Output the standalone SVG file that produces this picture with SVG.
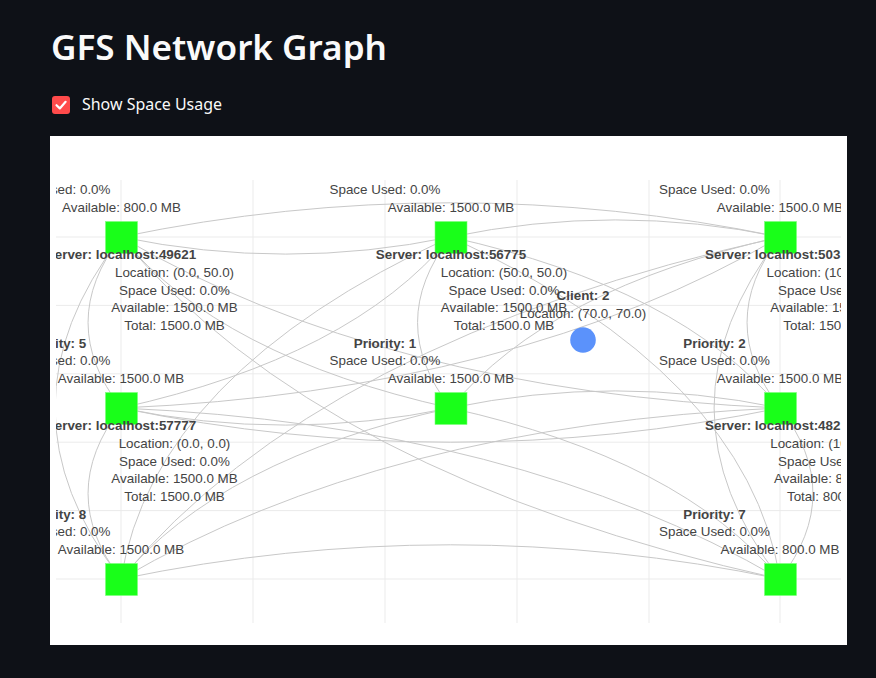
<svg xmlns="http://www.w3.org/2000/svg" width="876" height="678" viewBox="0 0 876 678">
<defs>
<style>
.t{font-family:"Liberation Sans",Arial,sans-serif;font-size:13.4px;fill:#444;text-anchor:middle}
.b{font-weight:bold}
.s{text-anchor:start}
.grid{stroke:#ebebeb;stroke-width:1;fill:none}
.e{stroke:#c8c8c8;stroke-width:1;fill:none}
.node{fill:#19ff19;stroke:#7dff7d;stroke-width:0.6}
</style>
<clipPath id="plot"><rect x="56" y="180" width="785" height="443"/></clipPath>
</defs>
<rect x="0" y="0" width="876" height="678" fill="#0e1117"/>
<text x="51" y="60" font-family="'Source Sans Pro','Noto Sans','Open Sans',sans-serif" font-weight="600" font-size="34" fill="#fafafa" textLength="336" lengthAdjust="spacingAndGlyphs">GFS Network Graph</text>
<g id="checkbox">
<rect x="52" y="96" width="18" height="18" rx="3" fill="#ff4b4b"/>
<path d="M56.5 105.2 L59.8 108.4 L65.6 101.8" fill="none" stroke="#fff" stroke-width="2.2" stroke-linecap="round" stroke-linejoin="round"/>
<text x="82" y="110" font-family="'Source Sans Pro','Noto Sans','Open Sans',sans-serif" font-size="16.5" fill="#fafafa" textLength="140" lengthAdjust="spacingAndGlyphs">Show Space Usage</text>
</g>
<rect x="50" y="136" width="797" height="509" fill="#ffffff"/>
<g id="grid" class="grid">
<path d="M121 180V623M253 180V623M385 180V623M517 180V623M649 180V623M780 180V623"/>
<path d="M56 237H841M56 305.4H841M56 373.8H841M56 442.2H841M56 510.6H841M56 579H841"/>
</g>
<g clip-path="url(#plot)">
<g id="edges" class="e">
<path d="M121,237 Q285.75,271.2 450.5,237"/>
<path d="M121,237 Q450.5,168.6 780,237"/>
<path d="M121,237 Q55.1,322.5 121,408"/>
<path d="M121,237 Q219.85,356.7 450.5,408"/>
<path d="M121,237 Q384.6,390.9 780,408"/>
<path d="M121,237 Q-10.8,408 121,579"/>
<path d="M121,237 Q318.7,476.4 780,579"/>
<path d="M450.5,237 Q615.25,202.8 780,237"/>
<path d="M450.5,237 Q351.65,356.7 121,408"/>
<path d="M450.5,237 Q384.6,322.5 450.5,408"/>
<path d="M450.5,237 Q681.15,288.3 780,408"/>
<path d="M450.5,237 Q153.95,373.8 121,579"/>
<path d="M450.5,237 Q747.05,373.8 780,579"/>
<path d="M780,237 Q516.4,390.9 121,408"/>
<path d="M780,237 Q549.35,288.3 450.5,408"/>
<path d="M780,237 Q714.1,322.5 780,408"/>
<path d="M780,237 Q318.7,339.6 121,579"/>
<path d="M780,237 Q648.2,408 780,579"/>
<path d="M121,408 Q285.75,442.2 450.5,408"/>
<path d="M121,408 Q450.5,476.4 780,408"/>
<path d="M121,408 Q55.1,493.5 121,579"/>
<path d="M121,408 Q516.4,425.1 780,579"/>
<path d="M450.5,408 Q615.25,373.8 780,408"/>
<path d="M450.5,408 Q219.85,459.3 121,579"/>
<path d="M450.5,408 Q681.15,459.3 780,579"/>
<path d="M780,408 Q384.6,425.1 121,579"/>
<path d="M780,408 Q845.9,493.5 780,579"/>
<path d="M121,579 Q450.5,510.6 780,579"/>
</g>
<g id="node-a">
<rect class="node" x="105.5" y="221.5" width="32" height="32"/>
<text class="t" x="55" y="194.3">Space Used: 0.0%</text>
<text class="t" x="121.5" y="212">Available: 800.0 MB</text>
</g>
<g id="node-b">
<rect class="node" x="435" y="221.5" width="32" height="32"/>
<text class="t" x="385" y="194.3">Space Used: 0.0%</text>
<text class="t" x="451" y="212">Available: 1500.0 MB</text>
</g>
<g id="node-c">
<rect class="node" x="764.5" y="221.5" width="32" height="32"/>
<text class="t" x="714.5" y="194.3">Space Used: 0.0%</text>
<text class="t" x="780" y="212">Available: 1500.0 MB</text>
</g>
<g id="node-d">
<rect class="node" x="105.5" y="392.5" width="32" height="32"/>
<text class="t b" x="121" y="259.1">Server: localhost:49621</text>
<text class="t" x="174.5" y="276.8">Location: (0.0, 50.0)</text>
<text class="t" x="174.5" y="294.5">Space Used: 0.0%</text>
<text class="t" x="174.5" y="312.2">Available: 1500.0 MB</text>
<text class="t" x="174.5" y="329.9">Total: 1500.0 MB</text>
<text class="t b" x="55" y="347.6">Priority: 5</text>
<text class="t" x="55" y="365.3">Space Used: 0.0%</text>
<text class="t" x="121" y="383">Available: 1500.0 MB</text>
</g>
<g id="node-e">
<rect class="node" x="435" y="392.5" width="32" height="32"/>
<text class="t b" x="451" y="259.1">Server: localhost:56775</text>
<text class="t" x="504" y="276.8">Location: (50.0, 50.0)</text>
<text class="t" x="504" y="294.5">Space Used: 0.0%</text>
<text class="t" x="504" y="312.2">Available: 1500.0 MB</text>
<text class="t" x="504" y="329.9">Total: 1500.0 MB</text>
<text class="t b" x="385" y="347.6">Priority: 1</text>
<text class="t" x="385" y="365.3">Space Used: 0.0%</text>
<text class="t" x="451" y="383">Available: 1500.0 MB</text>
</g>
<g id="node-f">
<rect class="node" x="764.5" y="392.5" width="32" height="32"/>
<text class="t b s" x="705" y="259.1">Server: localhost:503</text>
<text class="t" x="833.5" y="276.8">Location: (100.0, 50.0)</text>
<text class="t" x="833.5" y="294.5">Space Used: 0.0%</text>
<text class="t" x="833.5" y="312.2">Available: 1500.0 MB</text>
<text class="t" x="833.5" y="329.9">Total: 1500.0 MB</text>
<text class="t b" x="714.5" y="347.6">Priority: 2</text>
<text class="t" x="714.5" y="365.3">Space Used: 0.0%</text>
<text class="t" x="780" y="383">Available: 1500.0 MB</text>
</g>
<g id="node-g">
<rect class="node" x="105.5" y="563.5" width="32" height="32"/>
<text class="t b" x="121" y="430.1">Server: localhost:57777</text>
<text class="t" x="174.5" y="447.8">Location: (0.0, 0.0)</text>
<text class="t" x="174.5" y="465.5">Space Used: 0.0%</text>
<text class="t" x="174.5" y="483.2">Available: 1500.0 MB</text>
<text class="t" x="174.5" y="500.9">Total: 1500.0 MB</text>
<text class="t b" x="55" y="518.6">Priority: 8</text>
<text class="t" x="55" y="536.3">Space Used: 0.0%</text>
<text class="t" x="121" y="554">Available: 1500.0 MB</text>
</g>
<g id="node-h">
<rect class="node" x="764.5" y="563.5" width="32" height="32"/>
<text class="t b s" x="705" y="430.1">Server: localhost:482</text>
<text class="t" x="833.5" y="447.8">Location: (100.0, 0.0)</text>
<text class="t" x="833.5" y="465.5">Space Used: 0.0%</text>
<text class="t" x="833.5" y="483.2">Available: 800.0 MB</text>
<text class="t" x="833.5" y="500.9">Total: 800.0 MB</text>
<text class="t b" x="714.5" y="518.6">Priority: 7</text>
<text class="t" x="714.5" y="536.3">Space Used: 0.0%</text>
<text class="t" x="780" y="554">Available: 800.0 MB</text>
</g>
<g id="client-2">
<circle cx="583" cy="340" r="12.8" fill="#5b92fb"/>
<text class="t b" x="583" y="300.3">Client: 2</text>
<text class="t" x="583" y="318">Location: (70.0, 70.0)</text>
</g>
</g>
</svg>
